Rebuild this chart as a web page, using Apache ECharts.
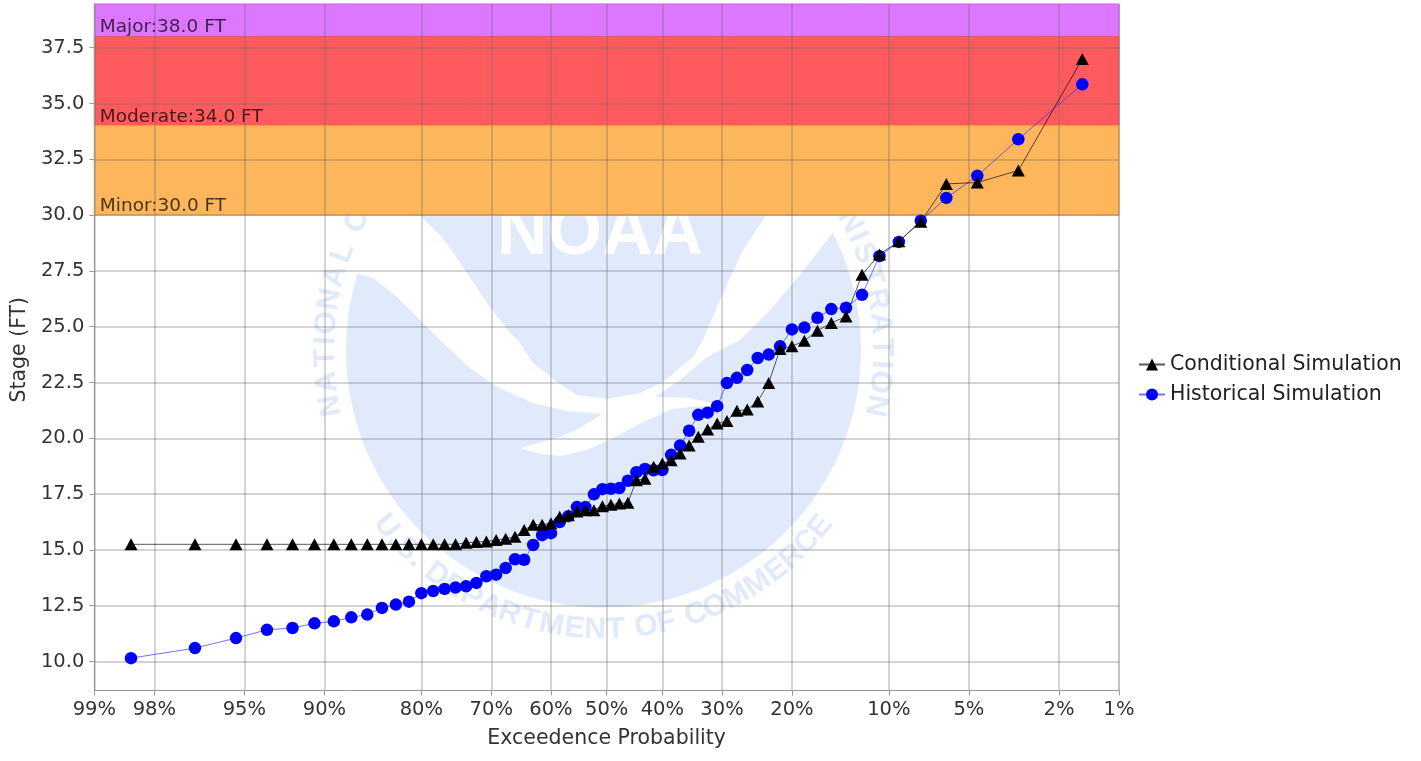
<!DOCTYPE html>
<html><head><meta charset="utf-8">
<style>html,body{margin:0;padding:0;background:#fff}#c{width:1421px;height:761px}</style>
<script src="https://cdn.jsdelivr.net/npm/echarts@6/dist/echarts.min.js"></script>
</head><body><div id="c"></div>
<script>
const exceedancePct = [98.46,96.92,95.38,93.85,92.31,90.77,89.23,87.69,86.15,84.62,83.08,81.54,80.00,78.46,76.92,75.38,73.85,72.31,70.77,69.23,67.69,66.15,64.62,63.08,61.54,60.00,58.46,56.92,55.38,53.85,52.31,50.77,49.23,47.69,46.15,44.62,43.08,41.54,40.00,38.46,36.92,35.38,33.85,32.31,30.77,29.23,27.69,26.15,24.62,23.08,21.54,20.00,18.46,16.92,15.38,13.85,12.31,10.77,9.23,7.69,6.15,4.62,3.08,1.54];
const conditionalStage = [15.25,15.25,15.25,15.25,15.25,15.25,15.25,15.25,15.25,15.25,15.25,15.25,15.25,15.25,15.25,15.25,15.32,15.35,15.38,15.44,15.50,15.59,15.89,16.13,16.13,16.19,16.49,16.55,16.72,16.78,16.78,16.96,17.02,17.08,17.11,18.12,18.19,18.72,18.87,19.02,19.32,19.68,20.07,20.39,20.66,20.78,21.23,21.29,21.65,22.48,24.00,24.12,24.37,24.82,25.17,25.46,27.33,28.24,28.83,29.70,31.40,31.46,32.00,37.00];
const historicalStage = [10.15,10.60,11.05,11.42,11.50,11.71,11.80,11.98,12.10,12.40,12.55,12.68,13.06,13.16,13.25,13.31,13.37,13.52,13.82,13.89,14.19,14.58,14.56,15.22,15.66,15.75,16.25,16.51,16.92,16.92,17.49,17.72,17.74,17.77,18.10,18.48,18.63,18.57,18.58,19.26,19.68,20.34,21.05,21.15,21.44,22.48,22.71,23.06,23.60,23.75,24.12,24.88,24.96,25.40,25.79,25.85,26.43,28.16,28.80,29.75,30.77,31.76,33.40,35.86];
const xTickPct = [99,98,95,90,80,70,60,50,40,30,20,10,5,2,1];
const yTicks = [10,12.5,15,17.5,20,22.5,25,27.5,30,32.5,35,37.5];
const floodBands = [
  {label:'Major:38.0 FT', from:38, to:39.46, color:'#DD77FF', edge:'#D46BF5'},
  {label:'Moderate:34.0 FT', from:34, to:38, color:'#FF5A5E', edge:'#E8566E'},
  {label:'Minor:30.0 FT', from:30, to:34, color:'#FDB65B', edge:'#F5A540'}
];

// Normal-probability x scale: exceedance percent -> standard normal score
function probScale(pct){
  const p = pct/100, q = p<0.5?p:1-p, t = Math.sqrt(-2*Math.log(q));
  const z = t-(2.515517+0.802853*t+0.010328*t*t)/(1+1.432788*t+0.189269*t*t+0.001308*t*t*t);
  return p<0.5?z:-z;
}
const xTicks = xTickPct.map(probScale);
const pair = (ys)=>ys.map((y,i)=>[probScale(exceedancePct[i]),y]);

// NOAA watermark (decorative, behind the plot)
const wm = '#E1EAFB', cx = 603.5, cy = 350;
const gullOutline = [[330,200],[410,200],[422,217],[443,238],[463,267],[490,307],[510,333],[518,340],[533,363],[557,382],[577,395],[607,399],[640,393],[663,382],[693,357],[703,340],[720,300],[743,250],[766,215],[780,200],[850,200],[835,230],[800,275],[770,310],[740,340],[707,357],[680,380],[655,397],[690,398],[720,405],[700,406],[673,409],[647,420],[613,438],[587,450],[560,456],[540,454],[520,448],[560,437],[580,428],[602,414],[567,411],[533,403],[497,387],[470,368],[443,343],[422,322],[397,297],[373,278],[355,273],[335,270]];
function arcLetters(str, startDeg, spanDeg, r, fs, bottom){
  const w = c => c===' '?0.34 : 'I.'.includes(c)?0.32 : 'MW'.includes(c)?0.88 : 0.72;
  const total = [...str].reduce((s,c)=>s+w(c),0);
  let acc = 0; const out=[];
  for(const c of str){
    const mid = acc + w(c)/2; acc += w(c);
    const a = (startDeg + spanDeg*mid/total)*Math.PI/180;
    if(c===' ') continue;
    out.push({type:'text',silent:true,
      x:cx+r*Math.sin(a), y:bottom?cy+r*Math.cos(a):cy-r*Math.cos(a),
      rotation:bottom?a:-a,
      style:{text:c,fill:wm,font:'bold '+fs+'px "Liberation Sans"',align:'center',verticalAlign:'middle'}});
  }
  return out;
}
const watermark = [
  {type:'circle',shape:{cx,cy,r:257.5},style:{fill:wm},silent:true},
  {type:'polygon',shape:{points:gullOutline},style:{fill:'#fff'},silent:true},
  {type:'text',x:600,y:270,silent:true,style:{text:'NOAA',fill:'#fff',font:'bold 70px "Liberation Sans"',align:'center',verticalAlign:'bottom'}},
  ...arcLetters('NATIONAL OCEANIC AND ATMOSPHERIC ADMINISTRATION',-104,208,278,30,false),
  ...arcLetters('U.S. DEPARTMENT OF COMMERCE',-53,106,280,30,true)
];

const font = '"DejaVu Sans"';
const chart = echarts.init(document.getElementById('c'),null,{renderer:'canvas'});
const gridLine = {show:true,lineStyle:{color:'rgba(100,100,100,0.28)',width:2}};
chart.setOption({
  animation:false,
  backgroundColor:'#fff',
  textStyle:{fontFamily:font},
  graphic:{z:0,elements:watermark},
  grid:{left:94.3,right:1421-1119,top:4,bottom:761-690.5,outerBoundsMode:'none',show:true,borderColor:'#cfcfcf',borderWidth:1,backgroundColor:'transparent',z:0},
  legend:{left:1138,top:354,padding:0,orient:'vertical',itemGap:9,itemWidth:26,itemHeight:15,
    textStyle:{fontFamily:font,fontSize:20.5,color:'#222'},
    data:['Conditional Simulation','Historical Simulation']},
  xAxis:{type:'value',min:probScale(99),max:probScale(1),z:2,
    name:'Exceedence Probability',nameLocation:'middle',nameGap:38,nameTextStyle:{fontSize:20.5,color:'#333',fontFamily:font},
    axisLine:{onZero:false,lineStyle:{color:'#999',width:1}},
    axisTick:{customValues:xTicks,length:5,lineStyle:{color:'#999'}},
    axisLabel:{customValues:xTicks,fontSize:19.5,color:'#333',margin:9,fontFamily:font,
      formatter:v=>{let b=0,d=9;xTicks.forEach((t,i)=>{const e=Math.abs(t-v);if(e<d){d=e;b=i}});return xTickPct[b]+'%';}},
    splitLine:gridLine},
  yAxis:{type:'value',min:8.70,max:39.46,z:2,
    name:'Stage (FT)',nameLocation:'middle',nameGap:64,nameTextStyle:{fontSize:20.5,color:'#333',fontFamily:font,padding:[0,5,0,0]},
    axisLine:{onZero:false,lineStyle:{color:'#999',width:1}},
    axisTick:{customValues:yTicks,length:5,lineStyle:{color:'#999'}},
    axisLabel:{customValues:yTicks,fontSize:19.5,color:'#333',margin:10,fontFamily:font,formatter:v=>v.toFixed(1)},
    splitLine:gridLine},
  series:[
    {name:'Conditional Simulation',type:'line',z:4,data:pair(conditionalStage),symbol:'triangle',symbolSize:[13,12],showSymbol:true,
      itemStyle:{color:'#000'},lineStyle:{color:'rgba(0,0,0,0.65)',width:1},
      markArea:{silent:true,z:1,
        data:floodBands.map(b=>[
          {yAxis:b.from,itemStyle:{color:b.color,borderColor:b.edge,borderWidth:1},
           label:{show:true,position:'insideBottomLeft',formatter:b.label,color:'rgba(0,0,0,0.72)',fontSize:18.5,fontFamily:font,distance:0,padding:[0,0,0,6]}},
          {yAxis:b.to}])}},
    {name:'Historical Simulation',type:'line',z:3,data:pair(historicalStage),symbol:'circle',symbolSize:12.5,showSymbol:true,
      itemStyle:{color:'#0000FF'},lineStyle:{color:'rgba(40,40,255,0.65)',width:1}}
  ]
});
</script></body></html>
